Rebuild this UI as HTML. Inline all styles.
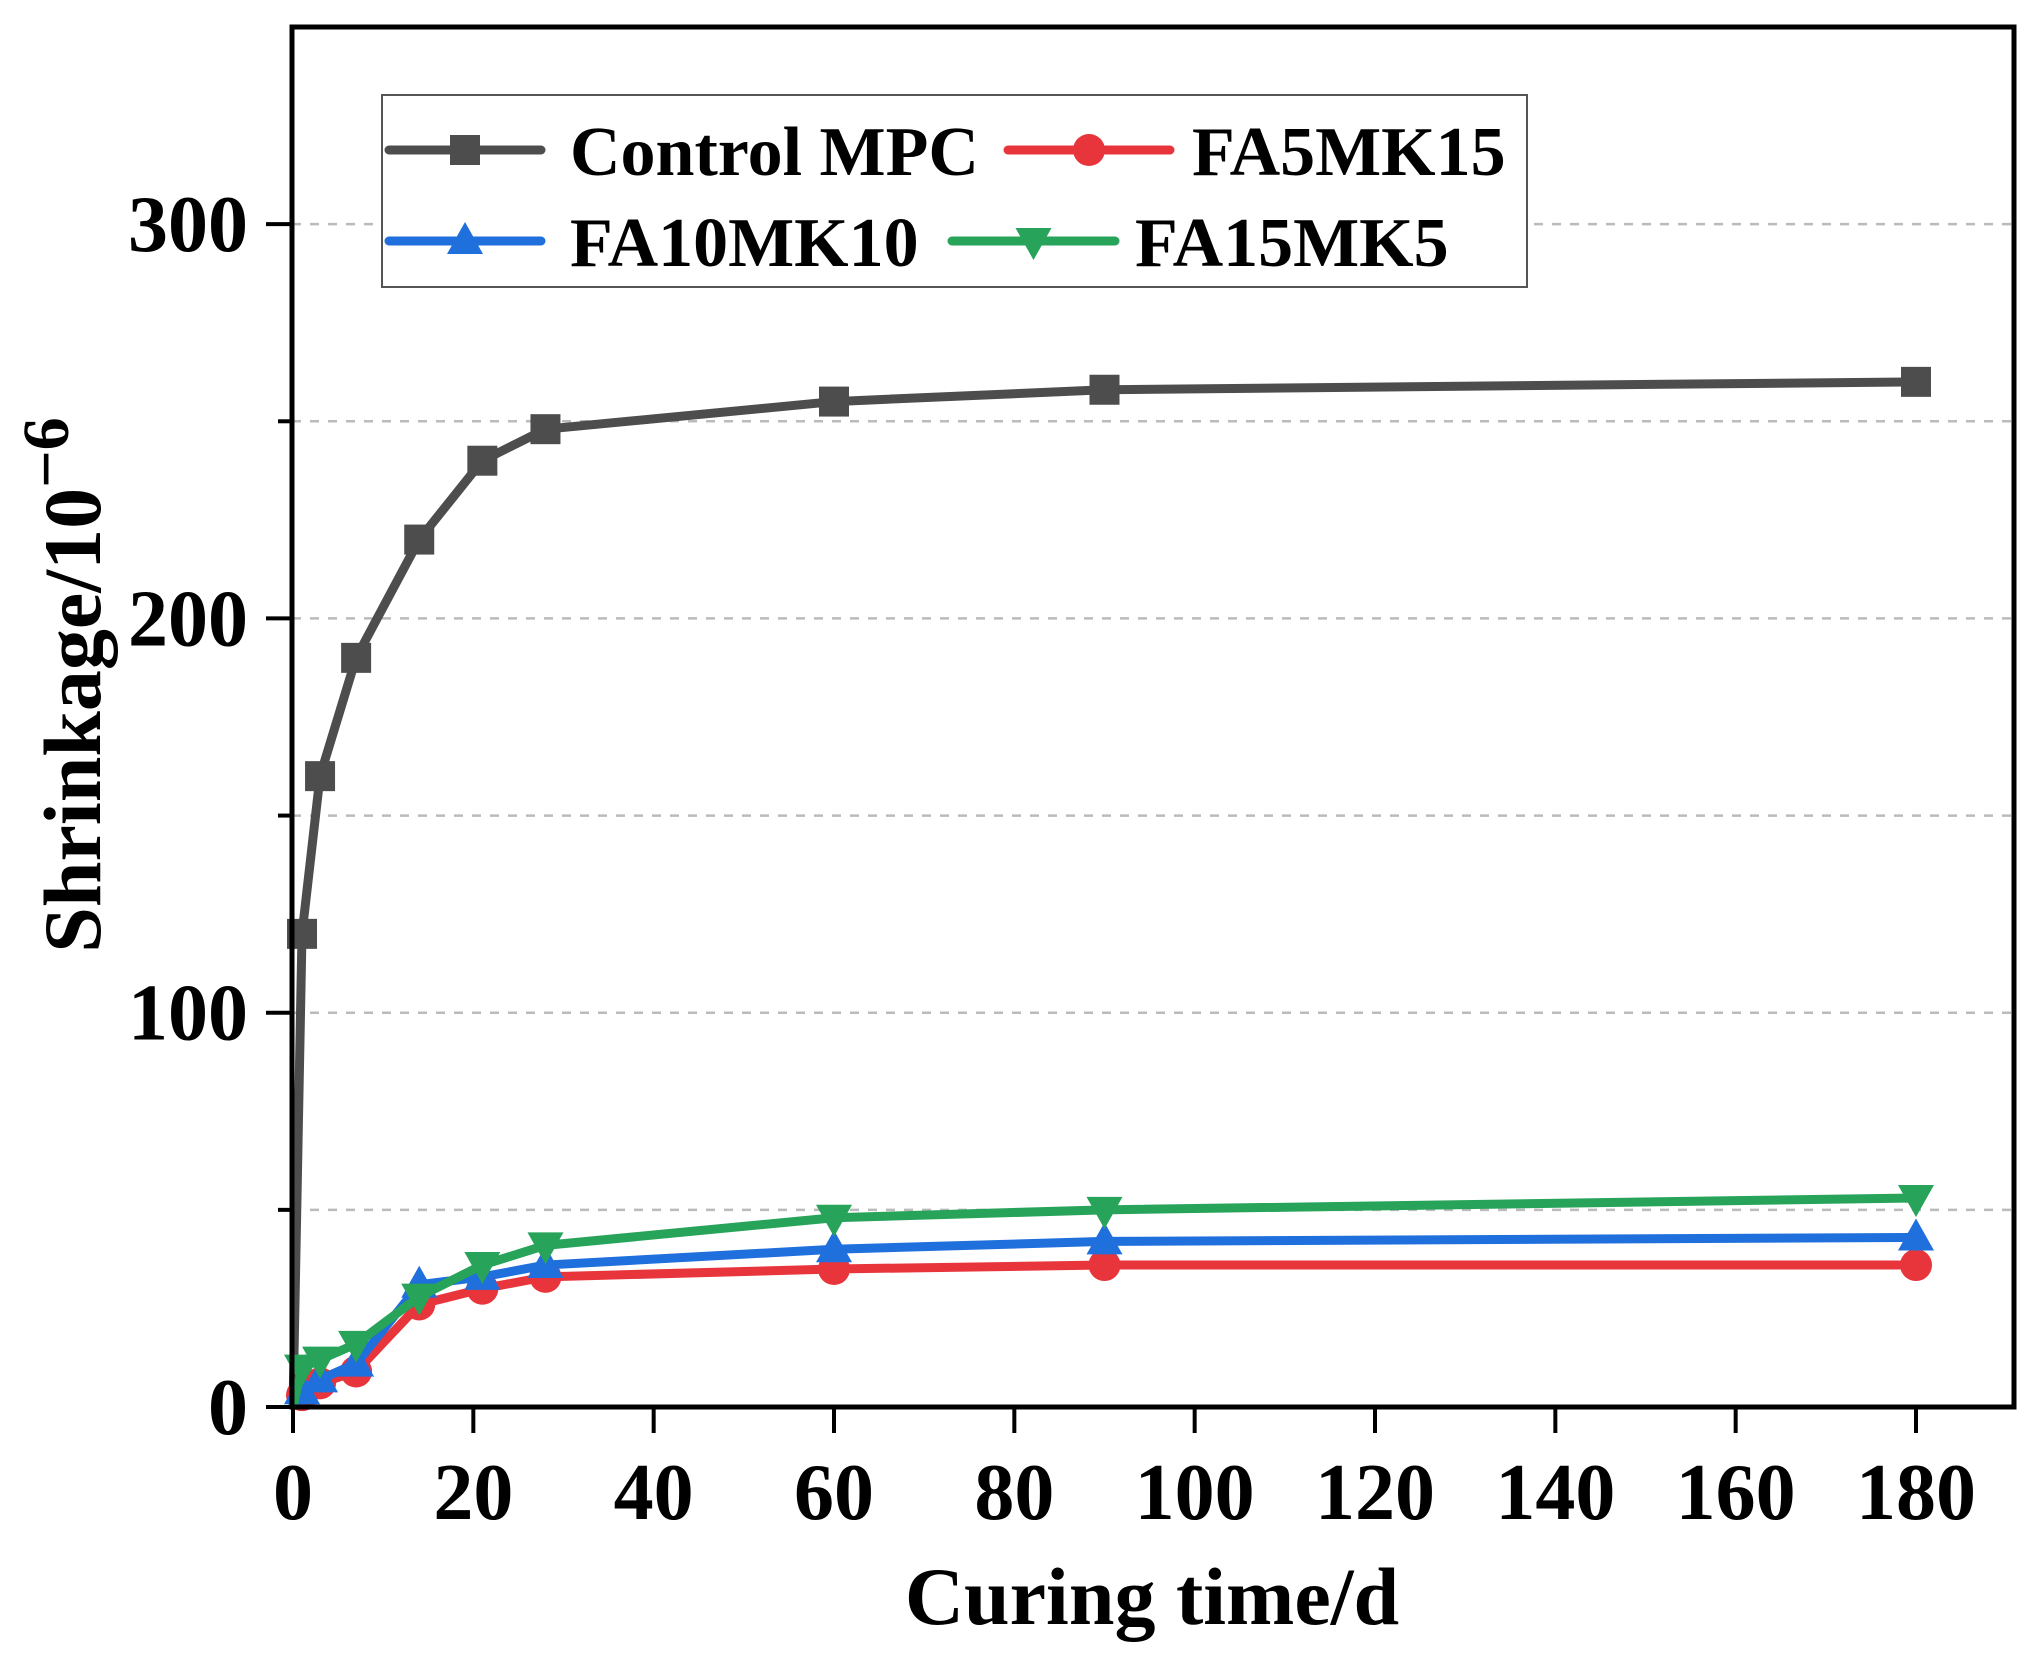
<!DOCTYPE html>
<html><head><meta charset="utf-8"><style>
html,body{margin:0;padding:0;background:#fff}
svg{display:block}
text{font-family:"Liberation Serif",serif;font-weight:bold;fill:#000}
</style></head><body>
<svg id="chart" width="2035" height="1656" viewBox="0 0 2035 1656" xmlns="http://www.w3.org/2000/svg">
<g id="grid"></g>
<g id="series"></g>
<g id="axes"></g>
<text x="1152" y="1624" font-size="82" text-anchor="middle">Curing time/d</text>
<text transform="translate(100,685) rotate(-90)" font-size="82" text-anchor="middle">Shrinkage/10<tspan dy="-32" font-size="66">−6</tspan></text>
<g id="legend">
<rect x="382" y="95" width="1145" height="192" fill="#fff" stroke="#555" stroke-width="2"/>
</g>
</svg>
<script>
const days = [0, 1, 3, 7, 14, 21, 28, 60, 90, 180];
const controlMPC = [0, 120, 160, 190, 220, 240, 248, 255, 258, 260];
const fa5mk15 = [0, 3, 6, 9, 26, 30, 33, 35, 36, 36];
const fa10mk10 = [0, 4, 7, 11, 31, 33, 36, 40, 42, 43];
const fa15mk5 = [0, 10, 12, 16, 28, 36, 41, 48, 50, 53];
const xTicks = [0, 20, 40, 60, 80, 100, 120, 140, 160, 180];
const yTicks = [0, 100, 200, 300];
const yGrid = [50, 100, 150, 200, 250, 300];
const seriesNames = ["Control MPC", "FA5MK15", "FA10MK10", "FA15MK5"];

const NS = "http://www.w3.org/2000/svg";
const L = 292, R = 2014, T = 27, B = 1407;
const X0 = 293, X180 = 1916;
function xs(v){ return X0 + (X180 - X0) * v / 180; }
function ys(v){ return B - (B - T) * v / 350; }
function mk(tag, attrs, parent){
  const e = document.createElementNS(NS, tag);
  for (const k in attrs) e.setAttribute(k, attrs[k]);
  parent.appendChild(e); return e;
}
const grid = document.getElementById('grid');
const axes = document.getElementById('axes');
const ser = document.getElementById('series');
const leg = document.getElementById('legend');

yGrid.forEach(v => {
  const l = mk('line', {x1: L, x2: R, y1: ys(v), y2: ys(v), stroke: '#bbb', 'stroke-width': 2.5, 'stroke-dasharray': '9 9'}, grid);
  
  
});

const frame = mk('rect', {x: L, y: T, width: R - L, height: B - T, fill: 'none', stroke: '#000', 'stroke-width': 5}, axes);



xTicks.forEach(v => {
  const t = mk('line', {x1: xs(v), x2: xs(v), y1: B, y2: B + 26, stroke: '#000', 'stroke-width': 4}, axes);
  
  
  const tx = mk('text', {x: xs(v), y: 1519, 'font-size': 80, 'text-anchor': 'middle'}, axes);
  tx.textContent = v;
  
  
});
yGrid.concat([0]).forEach(v => {
  const major = yTicks.indexOf(v) >= 0;
  const t = mk('line', {x1: L - (major ? 26 : 14), x2: L, y1: ys(v), y2: ys(v), stroke: '#000', 'stroke-width': 4}, axes);
  
  
});
yTicks.forEach(v => {
  const tx = mk('text', {x: 248, y: ys(v) + 27, 'font-size': 80, 'text-anchor': 'end'}, axes);
  tx.textContent = v;
  
  
});

function marker(type, x, y, color, parent){
  let e;
  if (type === 'square') e = mk('rect', {x: x - 15, y: y - 15, width: 30, height: 30, fill: color}, parent);
  else if (type === 'circle') e = mk('circle', {cx: x, cy: y, r: 16, fill: color}, parent);
  else if (type === 'up') e = mk('polygon', {points: `${x},${y-19} ${x+18},${y+13} ${x-18},${y+13}`, fill: color}, parent);
  else e = mk('polygon', {points: `${x},${y+19} ${x+18},${y-13} ${x-18},${y-13}`, fill: color}, parent);
  return e;
}

const defs = [
  {vals: controlMPC, color: '#4d4d4d', m: 'square', key: 'control-mpc'},
  {vals: fa5mk15, color: '#e8353c', m: 'circle', key: 'fa5mk15'},
  {vals: fa10mk10, color: '#1f6fdc', m: 'up', key: 'fa10mk10'},
  {vals: fa15mk5, color: '#27a35a', m: 'down', key: 'fa15mk5'}
];
defs.forEach(d => {
  const g = mk('g', {}, ser);
  
  
  const pts = days.map((x, i) => xs(x) + ',' + ys(d.vals[i])).join(' ');
  const pl = mk('polyline', {points: pts, fill: 'none', stroke: d.color, 'stroke-width': 9, 'stroke-linejoin': 'round'}, g);
  
  
  days.forEach((x, i) => {
    if (i === 0) return;
    const p = marker(d.m, xs(x), ys(d.vals[i]), d.color, g);
    
    
  });
});

const legPos = [
  {x1: 389, x2: 541, tx: 570, y: 150},
  {x1: 1008, x2: 1170, tx: 1192, y: 150},
  {x1: 389, x2: 541, tx: 570, y: 241},
  {x1: 952, x2: 1115, tx: 1135, y: 241}
];
defs.forEach((d, i) => {
  const p = legPos[i];
  const g = mk('g', {}, leg);
  
  
  mk('line', {x1: p.x1, x2: p.x2, y1: p.y, y2: p.y, stroke: d.color, 'stroke-width': 9, 'stroke-linecap': 'round'}, g);
  marker(d.m, (p.x1 + p.x2) / 2, p.y, d.color, g);
  const t = mk('text', {x: p.tx, y: p.y + 25, 'font-size': 70}, g);
  t.textContent = seriesNames[i];
});
</script>
</body></html>
